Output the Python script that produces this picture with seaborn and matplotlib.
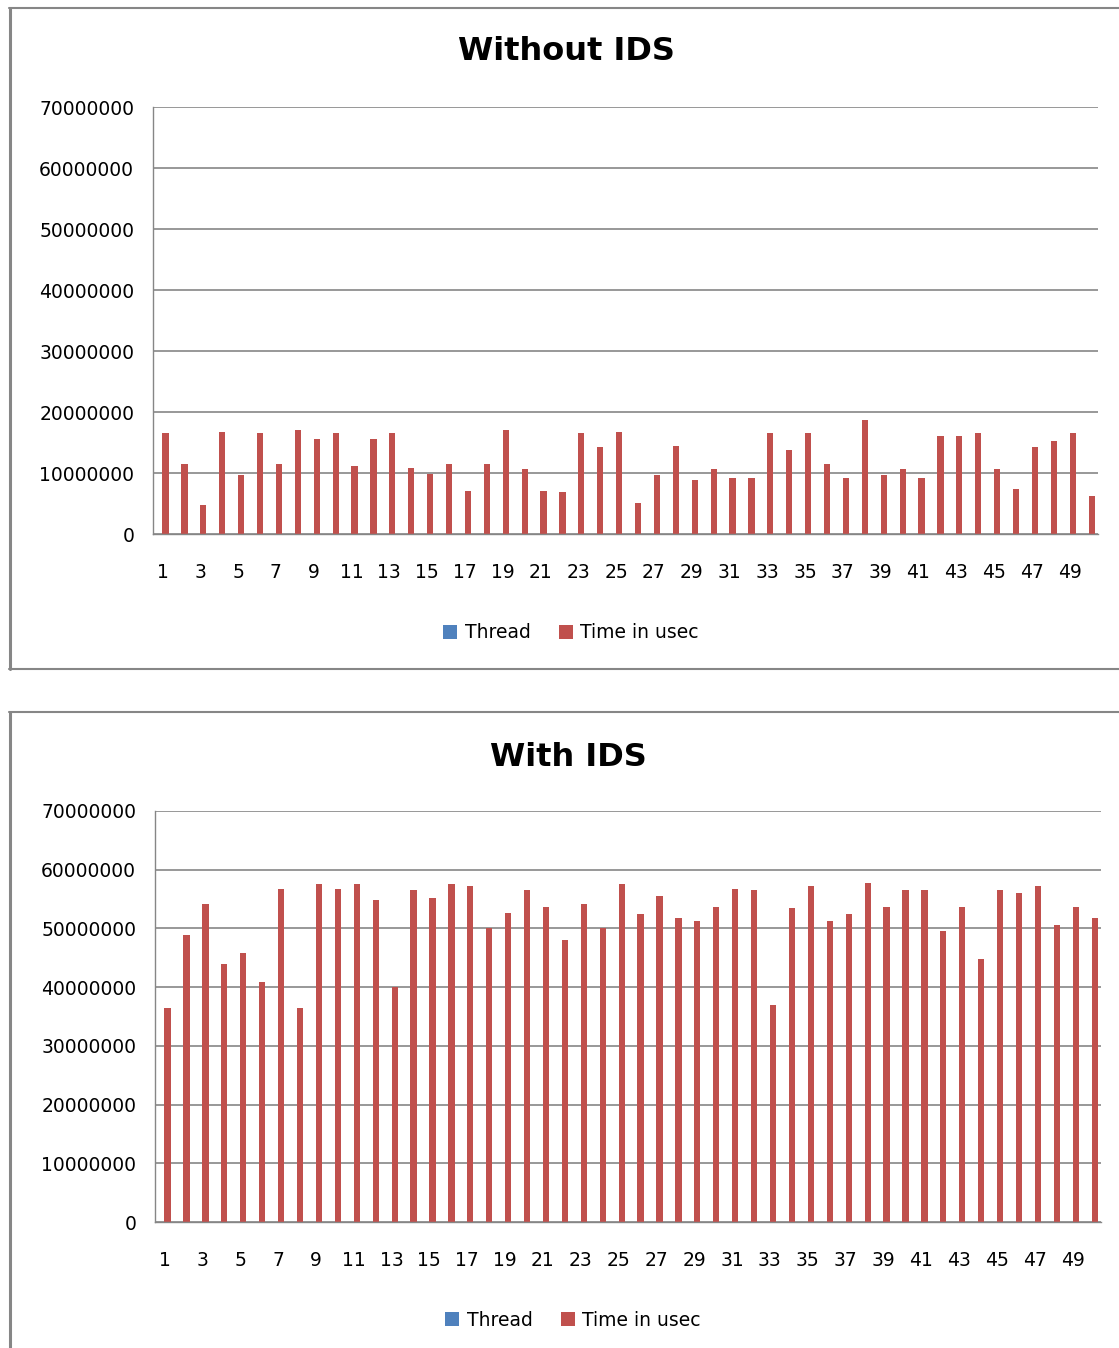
import matplotlib
matplotlib.use("Agg")
import matplotlib.pyplot as plt
from matplotlib.lines import Line2D
from matplotlib.patches import Patch
import pandas as pd
import seaborn as sns

# Thread numbers (categories) for the 50 runs
runs = list(range(1, 51))

# Execution time in microseconds, without the IDS running
time_without_ids = [
    16.6e6, 11.4e6, 4.8e6, 16.8e6, 9.7e6, 16.5e6, 11.4e6, 17.1e6, 15.6e6, 16.6e6,
    11.2e6, 15.6e6, 16.6e6, 10.9e6, 9.9e6, 11.5e6, 7.1e6, 11.4e6, 17.1e6, 10.7e6,
    7.1e6, 6.9e6, 16.6e6, 14.2e6, 16.8e6, 5.1e6, 9.7e6, 14.5e6, 8.9e6, 10.6e6,
    9.1e6, 9.1e6, 16.5e6, 13.8e6, 16.6e6, 11.4e6, 9.2e6, 18.7e6, 9.7e6, 10.6e6,
    9.1e6, 16.1e6, 16.0e6, 16.5e6, 10.6e6, 7.4e6, 14.2e6, 15.3e6, 16.5e6, 6.3e6,
]

# Execution time in microseconds, with the IDS running
time_with_ids = [
    36.4e6, 48.9e6, 54.1e6, 43.9e6, 45.8e6, 40.8e6, 56.8e6, 36.4e6, 57.5e6, 56.8e6,
    57.5e6, 54.9e6, 40.1e6, 56.5e6, 55.1e6, 57.5e6, 57.2e6, 50.1e6, 52.7e6, 56.6e6,
    53.7e6, 48.0e6, 54.2e6, 50.1e6, 57.5e6, 52.5e6, 55.6e6, 51.7e6, 51.2e6, 53.7e6,
    56.8e6, 56.5e6, 36.9e6, 53.4e6, 57.3e6, 51.2e6, 52.5e6, 57.7e6, 53.6e6, 56.5e6,
    56.5e6, 49.6e6, 53.6e6, 44.8e6, 56.5e6, 56.1e6, 57.2e6, 50.5e6, 53.7e6, 51.8e6,
]

series_names = ["Thread", "Time in usec"]
y_ticks = [0, 10000000, 20000000, 30000000, 40000000, 50000000, 60000000, 70000000]
x_tick_labels = [str(r) for r in runs[::2]]

BLUE = "#4F81BD"
RED = "#C0504D"
GREY = "#868686"

W, H = 1119, 1348
sns.set_theme(style="white")
plt.rcParams["font.family"] = ["DejaVu Sans"]
plt.rcParams["text.color"] = "black"
plt.rcParams["legend.labelcolor"] = "black"

fig = plt.figure(figsize=(W / 100, H / 100), dpi=100)
fig.patch.set_facecolor("white")


def px_axes(left, top, right, bottom):
    return fig.add_axes([left / W, 1 - bottom / H, (right - left) / W, (bottom - top) / H])


def long_frame(times):
    return pd.DataFrame({
        "Run": runs + runs,
        "Series": [series_names[0]] * len(runs) + [series_names[1]] * len(runs),
        "Value": runs + times,
    })


def draw_chart(ax, times, title, title_xy, legend_xy):
    df = long_frame(times)
    sns.barplot(data=df, x="Run", y="Value", hue="Series", hue_order=series_names,
                palette=[BLUE, RED], width=0.66, saturation=1, legend=False, ax=ax,
                errorbar=None, linewidth=0)
    ax.set_ylim(0, 70000000)
    ax.set_xlim(-0.5, len(runs) - 0.5)
    ax.set_yticks(y_ticks)
    ax.set_yticklabels([str(v) for v in y_ticks])
    ax.set_xticks(range(0, len(runs), 2))
    ax.set_xticklabels(x_tick_labels)
    ax.set_xlabel("")
    ax.set_ylabel("")
    ax.yaxis.grid(True, color=GREY, linewidth=1.2)
    ax.xaxis.grid(False)
    ax.set_axisbelow(True)
    for side in ("top", "right"):
        ax.spines[side].set_visible(False)
    for side in ("left", "bottom"):
        ax.spines[side].set_color(GREY)
        ax.spines[side].set_linewidth(1.0)
    ax.tick_params(axis="y", length=0, pad=13.5, labelsize=13.5, colors="black")
    ax.tick_params(axis="x", length=0, pad=21, labelsize=13.5, colors="black")
    fig.text(title_xy[0] / W, 1 - title_xy[1] / H, title, ha="center", va="center",
             fontsize=23, fontweight="bold", color="black")
    handles = [Patch(facecolor=BLUE, edgecolor="none"), Patch(facecolor=RED, edgecolor="none")]
    fig.legend(handles, series_names, loc="center", ncol=2, frameon=False,
               bbox_to_anchor=(legend_xy[0] / W, 1 - legend_xy[1] / H),
               fontsize=13.5, handlelength=0.75, handleheight=0.85,
               handletextpad=0.4, columnspacing=1.5, labelcolor="black")


ax_top = px_axes(153, 107, 1098, 534)
draw_chart(ax_top, time_without_ids, "Without IDS", (566, 52), (571, 633))

ax_bottom = px_axes(155, 811, 1101, 1222)
draw_chart(ax_bottom, time_with_ids, "With IDS", (568, 757), (573, 1320))


# Chart-area borders around each panel
def hline(y, x0, x1, lw):
    fig.add_artist(Line2D([x0 / W, x1 / W], [1 - y / H, 1 - y / H], color=GREY,
                          linewidth=lw, transform=fig.transFigure))


def vline(x, y0, y1, lw):
    fig.add_artist(Line2D([x / W, x / W], [1 - y0 / H, 1 - y1 / H], color=GREY,
                          linewidth=lw, transform=fig.transFigure))


hline(7.5, 9, W + 5, 1.5)
hline(668.5, 9, W + 5, 1.5)
vline(10, 7.5, 669, 2.2)
hline(711.5, 9, W + 5, 1.5)
vline(10, 711.5, H + 5, 2.2)

fig.savefig("out.png", dpi=100, facecolor="white")
